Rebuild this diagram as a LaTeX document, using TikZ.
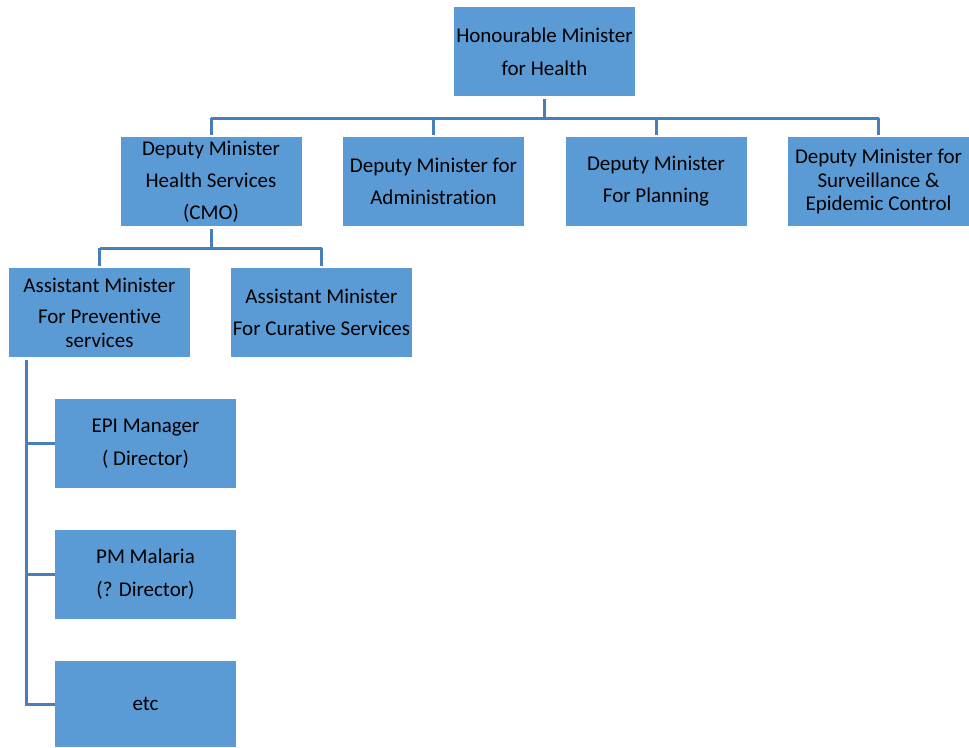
\documentclass[tikz,border=0pt]{standalone}
\usepackage{fontspec}
\setmainfont[Ligatures=NoCommon]{Carlito}
\definecolor{boxfill}{HTML}{5B9BD5}
\definecolor{linec}{HTML}{4A7EBB}
\begin{document}
\begin{tikzpicture}[x=1pt,y=-1pt,
  orgbox/.style={fill=boxfill,draw=none,minimum width=181pt,minimum height=89pt,inner sep=0pt,align=center,text=black,font=\fontsize{21}{32}\selectfont},
  conn/.style={draw=linec,line width=3pt}]
\useasboundingbox (0,0) rectangle (969,747);
\node[orgbox] (hm) at (544.5,51.5) {Honourable Minister\\[1pt]for Health};
\node[orgbox] (d1) at (211,181.5) {Deputy Minister\\Health Services\\(CMO)};
\node[orgbox] (d2) at (433.5,181.5) {Deputy Minister for\\Administration};
\node[orgbox] (d3) at (656,181.5) {Deputy Minister\\For Planning};
\node[orgbox] (d4) at (878.5,181.5) {Deputy Minister for\\[-8.5pt]Surveillance \&\\[-8.5pt]Epidemic Control};
\node[orgbox] (a1) at (99.5,312.5) {Assistant Minister\\[-1pt]For Preventive\\[-8pt]services};
\node[orgbox] (a2) at (321.5,312.5) {Assistant Minister\\For Curative Services};
\node[orgbox] (e1) at (145.5,443.5) {EPI Manager\\[1pt]( Director)};
\node[orgbox] (e2) at (145.5,574.5) {PM Malaria\\[1pt](? Director)};
\node[orgbox,minimum height=86pt] (e3) at (145.5,704) {etc};
\coordinate (bus1) at (0,118);
\coordinate (bus2) at (0,248);
\coordinate (spine) at (26,0);
\draw[conn] ([yshift=-3pt]hm.south) -- (hm.south |- bus1);
\draw[conn] (d1.north |- bus1) -- (d4.north |- bus1);
\foreach \n in {d1,d2,d3,d4} \draw[conn] (\n.north |- bus1) -- ([yshift=2pt]\n.north);
\draw[conn] ([yshift=-3pt]d1.south) -- (d1.south |- bus2);
\draw[conn] (a1.north |- bus2) -- (a2.north |- bus2);
\draw[conn] (a1.north |- bus2) -- ([yshift=2pt]a1.north);
\draw[conn] (a2.north |- bus2) -- ([yshift=2pt]a2.north);
\draw[conn] ([yshift=-3pt]a1.south -| spine) -- (spine |- e3.west) -- (e3.west);
\draw[conn] (spine |- e1.west) -- (e1.west);
\draw[conn] (spine |- e2.west) -- (e2.west);
\end{tikzpicture}
\end{document}
